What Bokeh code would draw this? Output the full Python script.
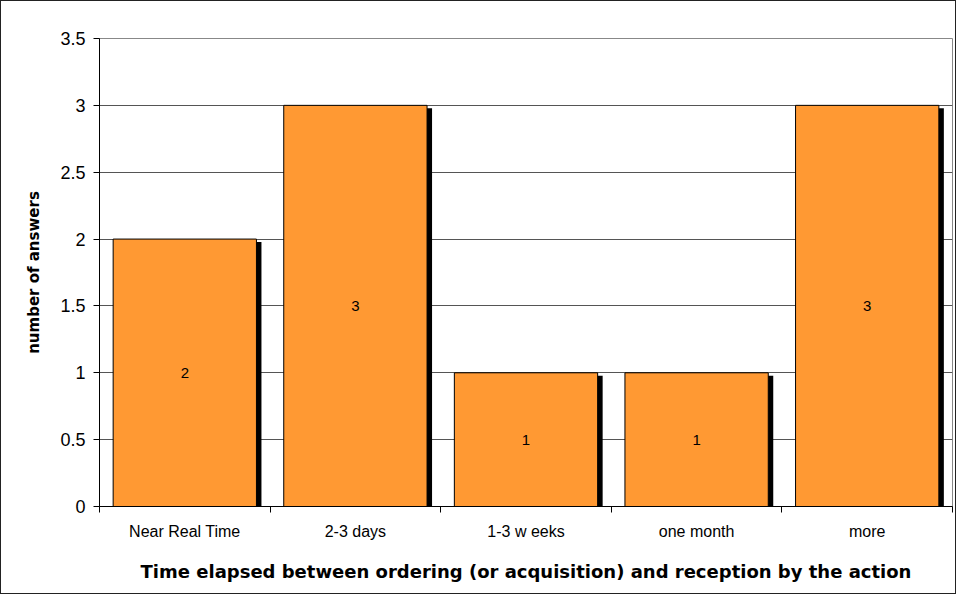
from bokeh.plotting import figure
from bokeh.models import ColumnDataSource, FixedTicker, Range1d
from bokeh.core.properties import value
from bokeh.embed import file_html
from bokeh.resources import INLINE

categories = ["Near Real Time", "2-3 days", "1-3 w eeks", "one month", "more"]
answers = [2, 3, 1, 1, 3]
y_ticks = [0, 0.5, 1, 1.5, 2, 2.5, 3, 3.5]

FONT = "Liberation Sans"
TITLE_FONT = "DejaVu Sans"
n = len(categories)
xs = [i + 0.5 for i in range(n)]
ymax = 3.5
frame_w, frame_h = 853, 468
px_x = n / frame_w
px_y = ymax / frame_h

src = ColumnDataSource(dict(
    x=xs,
    top=answers,
    sx=[x + 5 * px_x for x in xs],
    stop=[a - 3 * px_y for a in answers],
    ymid=[a / 2 for a in answers],
    lbl=[str(a) for a in answers],
))

p = figure(width=956, height=594, output_backend="svg", toolbar_location=None,
           x_range=Range1d(0, n), y_range=Range1d(0, ymax),
           min_border_left=98, min_border_right=5, min_border_top=37, min_border_bottom=89)
p.styles = {"border": "1px solid #222", "box-sizing": "border-box"}

p.vbar(x="sx", width=0.84, top="stop", bottom=0, source=src, fill_color="black", line_color=None)
p.vbar(x="x", width=0.84, top="top", bottom=0, source=src, fill_color="#FF9933",
       line_color="black", line_width=1)
p.text(x="x", y="ymid", text="lbl", source=src, text_align="center", text_baseline="middle",
       text_font=value(FONT), text_font_size="15px", text_color="black")

p.xgrid.visible = False
p.ygrid.ticker = FixedTicker(ticks=y_ticks)
p.ygrid.grid_line_color = "#555555"
p.ygrid.grid_line_width = 1
p.outline_line_color = "#888888"

yax = p.yaxis[0]
yax.ticker = FixedTicker(ticks=y_ticks)
yax.minor_tick_line_color = None
yax.major_tick_out = 6
yax.major_tick_in = 0
yax.axis_line_color = "black"
yax.major_tick_line_color = "black"
yax.major_label_text_font = FONT
yax.major_label_text_font_size = "18px"
yax.major_label_text_color = "black"
yax.major_label_standoff = 8
yax.major_label_overrides = {0: "0", 0.5: "0.5", 1: "1", 1.5: "1.5", 2: "2", 2.5: "2.5", 3: "3", 3.5: "3.5"}
yax.axis_label = "number of answers"
yax.axis_label_text_font = TITLE_FONT
yax.axis_label_text_font_style = "bold"
yax.axis_label_text_font_size = "15px"
yax.axis_label_text_color = "black"
yax.axis_label_standoff = 14

xax = p.xaxis[0]
xax.ticker = FixedTicker(ticks=xs, minor_ticks=list(range(n + 1)))
xax.major_label_overrides = {x: c for x, c in zip(xs, categories)}
xax.major_tick_line_color = None
xax.minor_tick_line_color = "black"
xax.minor_tick_out = 6
xax.minor_tick_in = 0
xax.axis_line_color = "black"
xax.major_label_text_font = FONT
xax.major_label_text_font_size = "16px"
xax.major_label_text_color = "black"
xax.major_label_standoff = 10
xax.axis_label = "Time elapsed between ordering (or acquisition) and reception by the action"
xax.axis_label_text_font = TITLE_FONT
xax.axis_label_text_font_style = "bold"
xax.axis_label_text_font_size = "18px"
xax.axis_label_text_color = "black"
xax.axis_label_standoff = 18

open("out.html", "w").write(file_html(p, INLINE))
